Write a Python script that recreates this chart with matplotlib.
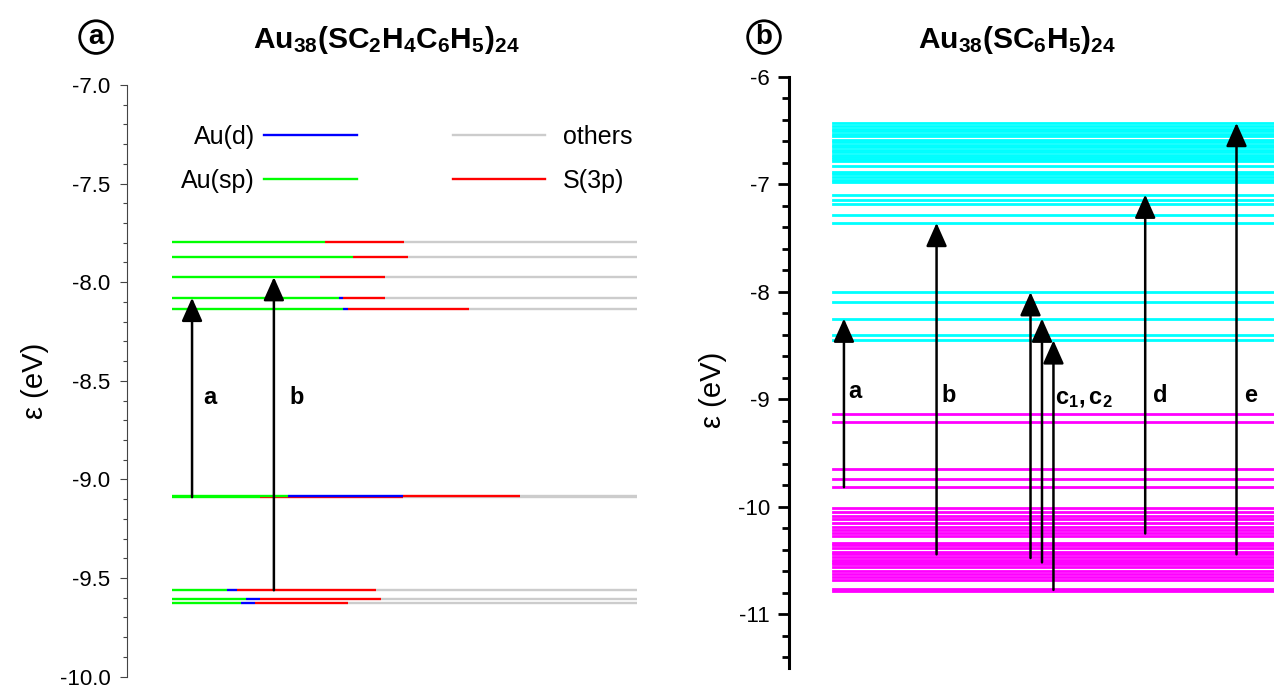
import matplotlib
matplotlib.use("Agg")
import matplotlib.pyplot as plt
from matplotlib.lines import Line2D

plt.rcParams['font.family'] = ['Liberation Sans', 'DejaVu Sans']
plt.rcParams['mathtext.fontset'] = 'custom'
plt.rcParams['mathtext.rm'] = 'Liberation Sans'
plt.rcParams['mathtext.bf'] = 'Liberation Sans:bold'
plt.rcParams['mathtext.it'] = 'Liberation Sans:italic'

# --- panel a: Au38(SC2H4C6H5)24, levels (eV) and composition (%)
levels_a = [-7.798, -7.871, -7.974, -8.079, -8.134, -9.090, -9.084, -9.562, -9.608, -9.628]
sp_a = [32.9, 38.9, 31.8, 35.9, 36.8, 18.9, 24.9, 11.8, 15.9, 14.8]
d_a = [0.0, 0.0, 0.0, 0.9, 1.0, 0.0, 24.7, 2.2, 3.0, 3.0]
s3p_a = [17.0, 11.8, 14.0, 9.0, 26.0, 30.8, 25.2, 29.9, 26.0, 20.0]
trans_a = [("a", -9.090, -8.079), ("b", -9.562, -7.974)]

# --- panel b: Au38(SC6H5)24, unoccupied (cyan) and occupied (magenta) levels (eV)
empty_b = [-6.430, -6.457, -6.485, -6.508, -6.532, -6.555, -6.587, -6.610, -6.634,
           -6.652, -6.680, -6.703, -6.726, -6.745, -6.763, -6.782, -6.835, -6.884,
           -6.907, -6.930, -6.958, -6.977, -7.097, -7.148, -7.184, -7.283, -7.360,
           -8.004, -8.097, -8.250, -8.399, -8.452]
occ_b = [-9.138, -9.215, -9.651, -9.738, -9.818, -10.013, -10.047, -10.085, -10.119,
         -10.149, -10.189, -10.221, -10.249, -10.270, -10.335, -10.360, -10.381,
         -10.421, -10.443, -10.468, -10.495, -10.518, -10.536, -10.560, -10.597,
         -10.629, -10.653, -10.685, -10.765, -10.785]
trans_b = [("a", -9.818, -8.250), ("b", -10.443, -7.360), ("c1", -10.477, -8.004),
           ("c2", -10.518, -8.250), ("c3", -10.774, -8.452), ("d", -10.249, -7.097),
           ("e", -10.443, -6.430)]

# layout
arrow_x_a = [0.043, 0.219]
label_pos_a = [(0.082, -8.587, "a"), (0.269, -8.587, "b")]
arrow_x_b = [0.025, 0.235, 0.448, 0.474, 0.500, 0.708, 0.915]
label_pos_b = [(0.050, -8.93, "a"), (0.263, -8.97, "b"), (0.570, -8.99, r"$\mathbf{c_1,c_2}$"),
               (0.741, -8.97, "d"), (0.946, -8.97, "e")]

c_sp, c_d, c_s, c_o = '#00ff00', '#0000ff', '#ff0000', '#cccccc'

fig = plt.figure(figsize=(12.74, 6.87), dpi=100)
ax_a = fig.add_axes([0.0995, 0.0151, 0.4029, 0.8612])
ax_b = fig.add_axes([0.6195, 0.0277, 0.3805, 0.8607])


def draw_arrow(ax, x, y0, y1):
    ax.annotate("", xy=(x, y1), xytext=(x, y0),
                arrowprops=dict(arrowstyle='-|>,head_width=0.4,head_length=0.9',
                                color='black', lw=1.8, shrinkA=0, shrinkB=0,
                                mutation_scale=16))


# panel a
for e, sp, d, s in zip(levels_a, sp_a, d_a, s3p_a):
    x0 = 0.0
    for frac, col in [(sp, c_sp), (d, c_d), (s, c_s), (100 - sp - d - s, c_o)]:
        if frac > 0:
            ax_a.plot([x0, x0 + frac / 100], [e, e], color=col, lw=1.7,
                      solid_capstyle='butt')
        x0 += frac / 100

for x, (name, y0, y1) in zip(arrow_x_a, trans_a):
    draw_arrow(ax_a, x, y0, y1)
for x, y, t in label_pos_a:
    ax_a.text(x, y, t, fontsize=17, fontweight='bold', ha='center', va='center')

ax_a.set_xlim(-0.0974, 1.0065)
ax_a.set_ylim(-10.0, -7.0)
ax_a.set_yticks([-7.0, -7.5, -8.0, -8.5, -9.0, -9.5, -10.0])
ax_a.set_yticks([-7 - 0.1 * i for i in range(31)], minor=True)
ax_a.set_yticklabels(['-7.0', '-7.5', '-8.0', '-8.5', '-9.0', '-9.5', '-10.0'])
ax_a.tick_params(axis='y', which='major', length=4.8, width=0.8, color='#444444',
                 labelsize=16, pad=7)
ax_a.tick_params(axis='y', which='minor', length=3.0, width=0.8, color='#444444')
for sp_name in ['top', 'right', 'bottom']:
    ax_a.spines[sp_name].set_visible(False)
ax_a.spines['left'].set_color('#444444')
ax_a.spines['left'].set_linewidth(0.8)
ax_a.xaxis.set_visible(False)
ax_a.set_ylabel('ε (eV)', fontsize=21)
ax_a.yaxis.set_label_coords(-0.152, 0.50)

h_d = Line2D([], [], color=c_d, lw=1.7)
h_sp = Line2D([], [], color=c_sp, lw=1.7)
h_o = Line2D([], [], color=c_o, lw=1.7)
h_s = Line2D([], [], color=c_s, lw=1.7)
leg1 = ax_a.legend([h_d, h_sp], ['Au(d)', 'Au(sp)'], loc='center',
                   bbox_to_anchor=(0.277, 0.8746), frameon=False, markerfirst=False,
                   fontsize=18, handlelength=3.7, handletextpad=0.36, labelspacing=0.8)
ax_a.add_artist(leg1)
ax_a.legend([h_o, h_s], ['others', 'S(3p)'], loc='center',
            bbox_to_anchor=(0.810, 0.8746), frameon=False,
            fontsize=18, handlelength=3.7, handletextpad=0.72, labelspacing=0.8)

# panel b
for e in empty_b:
    ax_b.plot([0, 1], [e, e], color='#00ffff', lw=2.0)
for e in occ_b:
    ax_b.plot([0, 1], [e, e], color='#ff00ff', lw=2.0)
for x, (name, y0, y1) in zip(arrow_x_b, trans_b):
    draw_arrow(ax_b, x, y0, y1)
for x, y, t in label_pos_b:
    ax_b.text(x, y, t, fontsize=17, fontweight='bold', ha='center', va='center')

ax_b.set_xlim(-0.099, 1.0)
ax_b.set_ylim(-11.5, -6.0)
ax_b.set_yticks([-6, -7, -8, -9, -10, -11])
ax_b.set_yticks([-6 - 0.2 * i for i in range(28)], minor=True)
ax_b.set_yticklabels(['-6', '-7', '-8', '-9', '-10', '-11'])
ax_b.tick_params(axis='y', which='major', length=7.9, width=2.0, labelsize=16, pad=6)
ax_b.tick_params(axis='y', which='minor', length=5.0, width=2.0)
for sp_name in ['top', 'right', 'bottom']:
    ax_b.spines[sp_name].set_visible(False)
ax_b.spines['left'].set_linewidth(2.2)
ax_b.xaxis.set_visible(False)
ax_b.set_ylabel('ε (eV)', fontsize=21)
ax_b.yaxis.set_label_coords(-0.128, 0.47)

# titles and panel markers
fig.text(0.303, 0.942, r'$\mathbf{Au_{38}(SC_2H_4C_6H_5)_{24}}$', fontsize=21.5,
         ha='center', va='center')
fig.text(0.798, 0.942, r'$\mathbf{Au_{38}(SC_6H_5)_{24}}$', fontsize=21.5,
         ha='center', va='center')
for x, t in [(0.0754, 'a'), (0.5997, 'b')]:
    fig.text(x, 0.946, t, fontsize=20, fontweight='bold', ha='center', va='center',
             bbox=dict(boxstyle='circle,pad=0.12', fc='white', ec='black', lw=2.0))

fig.savefig('out.png', dpi=100)
